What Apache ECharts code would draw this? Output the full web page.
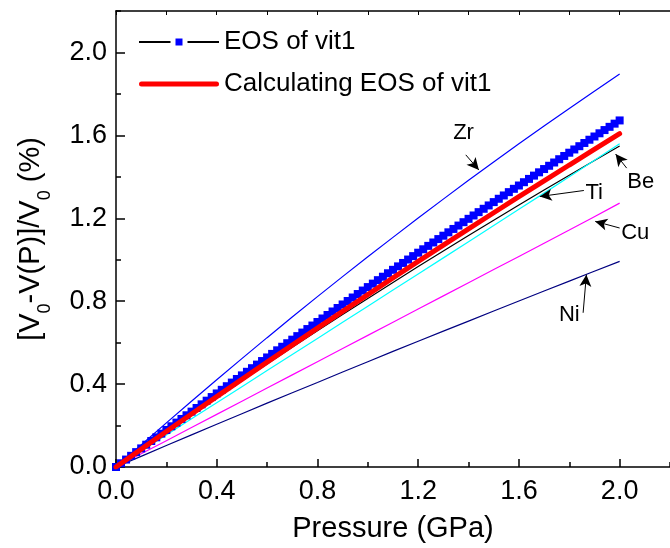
<!DOCTYPE html>
<html>
<head>
<meta charset="utf-8">
<script src="https://cdn.jsdelivr.net/npm/echarts@6/dist/echarts.min.js"></script>
<style>html,body{margin:0;padding:0;background:#fff;}#c{width:670px;height:548px;}</style>
</head>
<body>
<div id="c"></div>
<script>
// ---- data ----
const eosPressure = [0,0.02,0.04,0.06,0.08,0.10,0.12,0.14,0.16,0.18,0.20,0.22,0.24,0.26,0.28,0.30,0.32,0.34,0.36,0.38,0.40,0.42,0.44,0.46,0.48,0.50,0.52,0.54,0.56,0.58,0.60,0.62,0.64,0.66,0.68,0.70,0.72,0.74,0.76,0.78,0.80,0.82,0.84,0.86,0.88,0.90,0.92,0.94,0.96,0.98,1.00,1.02,1.04,1.06,1.08,1.10,1.12,1.14,1.16,1.18,1.20,1.22,1.24,1.26,1.28,1.30,1.32,1.34,1.36,1.38,1.40,1.42,1.44,1.46,1.48,1.50,1.52,1.54,1.56,1.58,1.60,1.62,1.64,1.66,1.68,1.70,1.72,1.74,1.76,1.78,1.80,1.82,1.84,1.86,1.88,1.90,1.92,1.94,1.96,1.98,2.00];
const eosVit1 = [0,0.0180,0.0359,0.0539,0.0718,0.0897,0.1075,0.1254,0.1432,0.1610,0.1787,0.1965,0.2142,0.2318,0.2495,0.2671,0.2847,0.3023,0.3199,0.3374,0.3549,0.3724,0.3898,0.4072,0.4246,0.4420,0.4593,0.4767,0.4940,0.5112,0.5285,0.5457,0.5629,0.5801,0.5972,0.6143,0.6314,0.6485,0.6655,0.6825,0.6995,0.7165,0.7334,0.7503,0.7672,0.7841,0.8009,0.8177,0.8345,0.8513,0.8680,0.8847,0.9014,0.9180,0.9347,0.9513,0.9679,0.9844,1.0009,1.0174,1.0339,1.0504,1.0668,1.0832,1.0996,1.1159,1.1322,1.1485,1.1648,1.1811,1.1973,1.2135,1.2296,1.2458,1.2619,1.2780,1.2941,1.3101,1.3261,1.3421,1.3581,1.3740,1.3899,1.4058,1.4217,1.4375,1.4533,1.4691,1.4849,1.5006,1.5163,1.5320,1.5477,1.5633,1.5789,1.5945,1.6100,1.6256,1.6411,1.6565,1.6720];
const pressure = [0,0.2,0.4,0.6,0.8,1.0,1.2,1.4,1.6,1.8,2.0];
const calcVit1 = [0,0.171,0.3395,0.506,0.670,0.832,0.992,1.149,1.304,1.457,1.608];
const zr = [0,0.213,0.421,0.624,0.822,1.014,1.201,1.383,1.559,1.730,1.896];
const be = [0,0.169,0.335,0.4975,0.657,0.8135,0.967,1.117,1.264,1.408,1.549];
const ti = [0,0.155,0.310,0.465,0.620,0.776,0.931,1.087,1.243,1.400,1.560];
const cu = [0,0.127,0.254,0.381,0.508,0.635,0.762,0.889,1.016,1.143,1.273];
const ni = [0,0.1035,0.206,0.308,0.408,0.508,0.607,0.704,0.801,0.897,0.992];
const xTickLabels = ['0.0','0.4','0.8','1.2','1.6','2.0'];
const yTickLabels = ['0.0','0.4','0.8','1.2','1.6','2.0'];
const seriesNames = ['EOS of vit1','Calculating EOS of vit1'];
// annotation: element name, label position, arrow tail, arrow tip (data coords)
const annoNames = ['Zr','Be','Ti','Cu','Ni'];
const annoLabelAt = [[1.38,1.61],[2.084,1.377],[1.899,1.324],[2.062,1.129],[1.80,0.736]];
const annoFrom = [[1.389,1.506],[2.028,1.442],[1.858,1.334],[2.0,1.153],[1.855,0.744]];
const annoTo = [[1.441,1.433],[1.984,1.510],[1.683,1.305],[1.903,1.185],[1.868,0.928]];

const FONT = 'Liberation Sans, Arial, sans-serif';
const pairs = (xs, ys) => xs.map((x, i) => [x, ys[i]]);
const fmt = (labels) => (v) => { const s = v.toFixed(1); return labels.indexOf(s) >= 0 ? s : ''; };

const chart = echarts.init(document.getElementById('c'), null, {renderer: 'canvas'});
const thin = (name, data, color, z) => ({
  name, type: 'line', data: pairs(pressure, data), smooth: 0.3, showSymbol: false, symbol: 'none',
  lineStyle: {color, width: 1.2}, z, silent: true, xAxisIndex: 0, yAxisIndex: 0
});
const option = {
  animation: false,
  grid: {left: 115, top: 11, width: 566.5, height: 457, containLabel: false},
  legend: {
    data: [
      {name: seriesNames[0], itemStyle: {borderColor: '#fff', borderWidth: 5}},
      {name: seriesNames[1], icon: 'path://M2.5,0L77.5,0A2.5,2.5,0,0,1,77.5,5L2.5,5A2.5,2.5,0,0,1,2.5,0Z'}
    ],
    orient: 'vertical', left: 133, top: 22, itemWidth: 80, itemHeight: 15, itemGap: 12,
    textStyle: {fontSize: 26, fontFamily: FONT, color: '#000', lineHeight: 30},
    selectedMode: false
  },
  xAxis: [
    {type: 'value', min: 0, max: 2.2, interval: 0.4, position: 'bottom',
     name: 'Pressure (GPa)', nameLocation: 'middle', nameGap: 47,
     nameTextStyle: {fontSize: 29, fontFamily: FONT, color: '#000'},
     axisLine: {show: true, onZero: false, lineStyle: {color: '#000', width: 1.5}},
     axisTick: {show: true, inside: true, length: 8, lineStyle: {color: '#000', width: 1.5}},
     axisLabel: {formatter: fmt(xTickLabels), fontSize: 27, fontFamily: FONT, color: '#000', margin: 11, showMaxLabel: false},
     splitLine: {show: false}},
    {type: 'value', min: 0, max: 2.2, interval: 0.2, position: 'bottom',
     axisLine: {show: false}, axisLabel: {show: false}, splitLine: {show: false},
     axisTick: {show: true, inside: true, length: 5, lineStyle: {color: '#000', width: 1.5}}},
    {type: 'value', min: 0, max: 2.2, interval: 0.2, position: 'top',
     axisLine: {show: true, onZero: false, lineStyle: {color: '#000', width: 1.5}},
     axisLabel: {show: false}, splitLine: {show: false},
     axisTick: {show: true, inside: true, length: 4, lineStyle: {color: '#000', width: 1}}}
  ],
  yAxis: [
    {type: 'value', min: 0, max: 2.2, interval: 0.4, position: 'left',
     name: '[V{sub|0}-V(P)]/V{sub|0} (%)', nameLocation: 'middle', nameRotate: 90, nameGap: 62,
     nameTextStyle: {fontSize: 29, fontFamily: FONT, color: '#000', lineHeight: 46,
       rich: {sub: {fontSize: 18, fontFamily: FONT, color: '#000', lineHeight: 18, verticalAlign: 'bottom'}}},
     axisLine: {show: true, onZero: false, lineStyle: {color: '#000', width: 1.5}},
     axisTick: {show: true, inside: true, length: 9, lineStyle: {color: '#000', width: 1.5}},
     axisLabel: {formatter: fmt(yTickLabels), fontSize: 27, fontFamily: FONT, color: '#000', margin: 9, showMaxLabel: false},
     splitLine: {show: false}},
    {type: 'value', min: 0, max: 2.2, interval: 0.2, position: 'left',
     axisLine: {show: false}, axisLabel: {show: false}, splitLine: {show: false},
     axisTick: {show: true, inside: true, length: 5, lineStyle: {color: '#000', width: 1.5}}}
  ],
  series: [
    thin('Zr', zr, '#0000ff', 2),
    thin('Be', be, '#000000', 2),
    thin('Ti', ti, '#00ffff', 2),
    thin('Cu', cu, '#ff00ff', 2),
    thin('Ni', ni, '#000080', 2),
    {name: seriesNames[0], type: 'line', data: pairs(eosPressure, eosVit1), symbol: 'rect', symbolSize: 8,
     showSymbol: true, lineStyle: {color: '#000', width: 1}, itemStyle: {color: '#0000ff'}, z: 3, silent: true},
    {name: seriesNames[1], type: 'line', data: pairs(pressure, calcVit1), smooth: 0.3, symbol: 'none', showSymbol: false,
     lineStyle: {color: '#ff0000', width: 5, cap: 'round'}, itemStyle: {color: '#ff0000'}, z: 4, silent: true},
    {name: 'annotations', type: 'scatter', data: [], silent: true, z: 5,
     markLine: {silent: true, animation: false, symbol: ['none', 'arrow'], symbolSize: [9, 12],
       lineStyle: {color: '#000', width: 1, type: 'solid'}, label: {show: false},
       data: annoNames.map((n, i) => [{coord: annoFrom[i]}, {coord: annoTo[i]}])},
     markPoint: {silent: true, animation: false, symbol: 'circle', symbolSize: 0,
       label: {show: true, position: 'inside', fontSize: 22, fontFamily: FONT, color: '#000',
         formatter: (p) => p.name},
       data: annoNames.map((n, i) => ({name: n, coord: annoLabelAt[i]}))}}
  ]
};
chart.setOption(option);
</script>
</body>
</html>
